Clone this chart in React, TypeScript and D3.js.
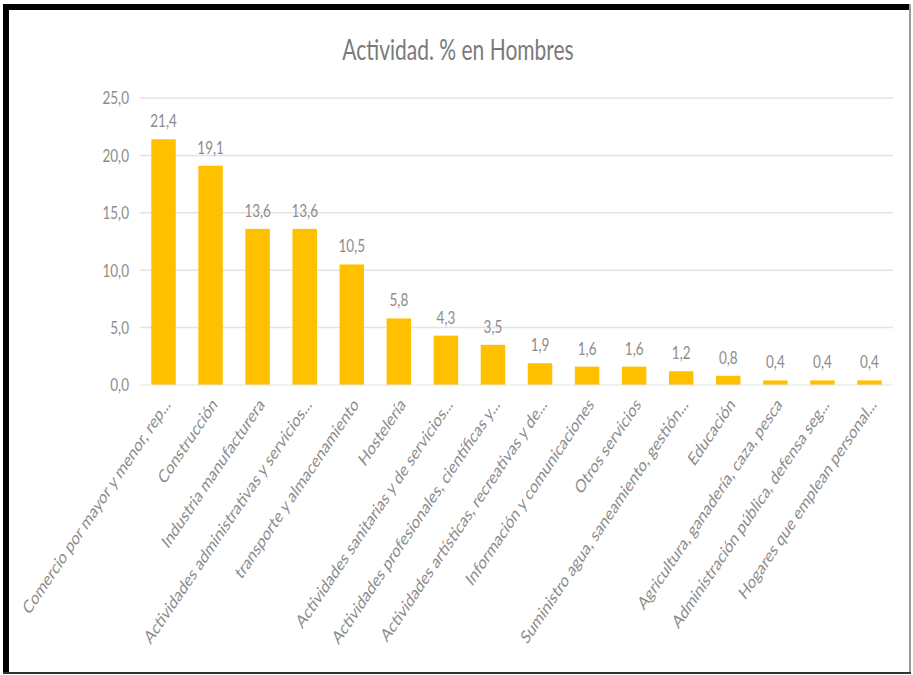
import React from "react";
import * as d3 from "d3";

const title = "Actividad. % en Hombres";
const categories = [
  "Comercio por mayor y menor, rep...",
  "Construcción",
  "Industria manufacturera",
  "Actividades administrativas y servicios...",
  "transporte y almacenamiento",
  "Hostelería",
  "Actividades sanitarias y de servicios...",
  "Actividades profesionales, científicas y...",
  "Actividades artísticas, recreativas y de...",
  "Información y comunicaciones",
  "Otros servicios",
  "Suministro agua, saneamiento, gestión...",
  "Educación",
  "Agricultura, ganadería, caza, pesca",
  "Administración pública, defensa seg...",
  "Hogares que emplean personal...",
];
const values = [21.4, 19.1, 13.6, 13.6, 10.5, 5.8, 4.3, 3.5, 1.9, 1.6, 1.6, 1.2, 0.8, 0.4, 0.4, 0.4];
const yTicks = [0, 5, 10, 15, 20, 25];

const W = 913;
const H = 675;
const SX = 0.75;
const FONT = "Lato, 'Open Sans', sans-serif";
const TEXT = "#8c8c8c";

const fmt = (v: number) => d3.format(".1f")(v).replace(".", ",");

export default function App() {
  const x = d3.scaleBand<string>().domain(categories).range([140, 893]).paddingInner(0.48).paddingOuter(0.24);
  const y = d3.scaleLinear().domain([0, 25]).range([385, 98]);

  return (
    <svg width={W} height={H} style={{ position: "absolute", left: 0, top: 0, background: "#fff" }}>
      <rect x={0} y={0} width={W} height={H} fill="#fff" />
      {/* frame */}
      <rect x={3} y={4} width={906} height={6} fill="#000" />
      <rect x={3} y={4} width={6} height={670} fill="#000" />
      <rect x={909} y={4} width={2} height={670} fill="#9a9a9a" />
      <rect x={3} y={672} width={908} height={2} fill="#333" />

      <text
        transform={`translate(458,60) scale(${SX},1)`}
        textAnchor="middle"
        fontFamily={FONT}
        fontSize={28}
        fill="#7a7a7a"
      >
        {title}
      </text>

      {yTicks.map((t) => (
        <g key={t}>
          {t > 0 && <line x1={140} x2={893} y1={y(t)} y2={y(t)} stroke="#e3e3e3" strokeWidth={1.5} />}
          <text
            transform={`translate(129,${y(t)}) scale(${SX},1)`}
            textAnchor="end"
            dy="0.35em"
            fontFamily={FONT}
            fontSize={18}
            fill={TEXT}
          >
            {fmt(t)}
          </text>
        </g>
      ))}

      {categories.map((c, i) => {
        const v = values[i];
        const bx = x(c)!;
        const bw = x.bandwidth();
        const cx = bx + bw / 2;
        return (
          <g key={c}>
            <rect x={bx} y={y(v)} width={bw} height={y(0) - y(v)} fill="#FFC000" />
            <text
              transform={`translate(${cx},${y(v) - 12}) scale(${SX},1)`}
              textAnchor="middle"
              fontFamily={FONT}
              fontSize={18}
              fill={TEXT}
            >
              {fmt(v)}
            </text>
            <text
              transform={`translate(${cx + 4},${401}) scale(${SX},1) rotate(-48)`}
              textAnchor="end"
              dy="0.35em"
              fontFamily={FONT}
              fontSize={18.5}
              fill={TEXT}
            >
              {c}
            </text>
          </g>
        );
      })}
      <line x1={140} x2={893} y1={y(0)} y2={y(0)} stroke="#e3e3e3" strokeWidth={1} />
    </svg>
  );
}
